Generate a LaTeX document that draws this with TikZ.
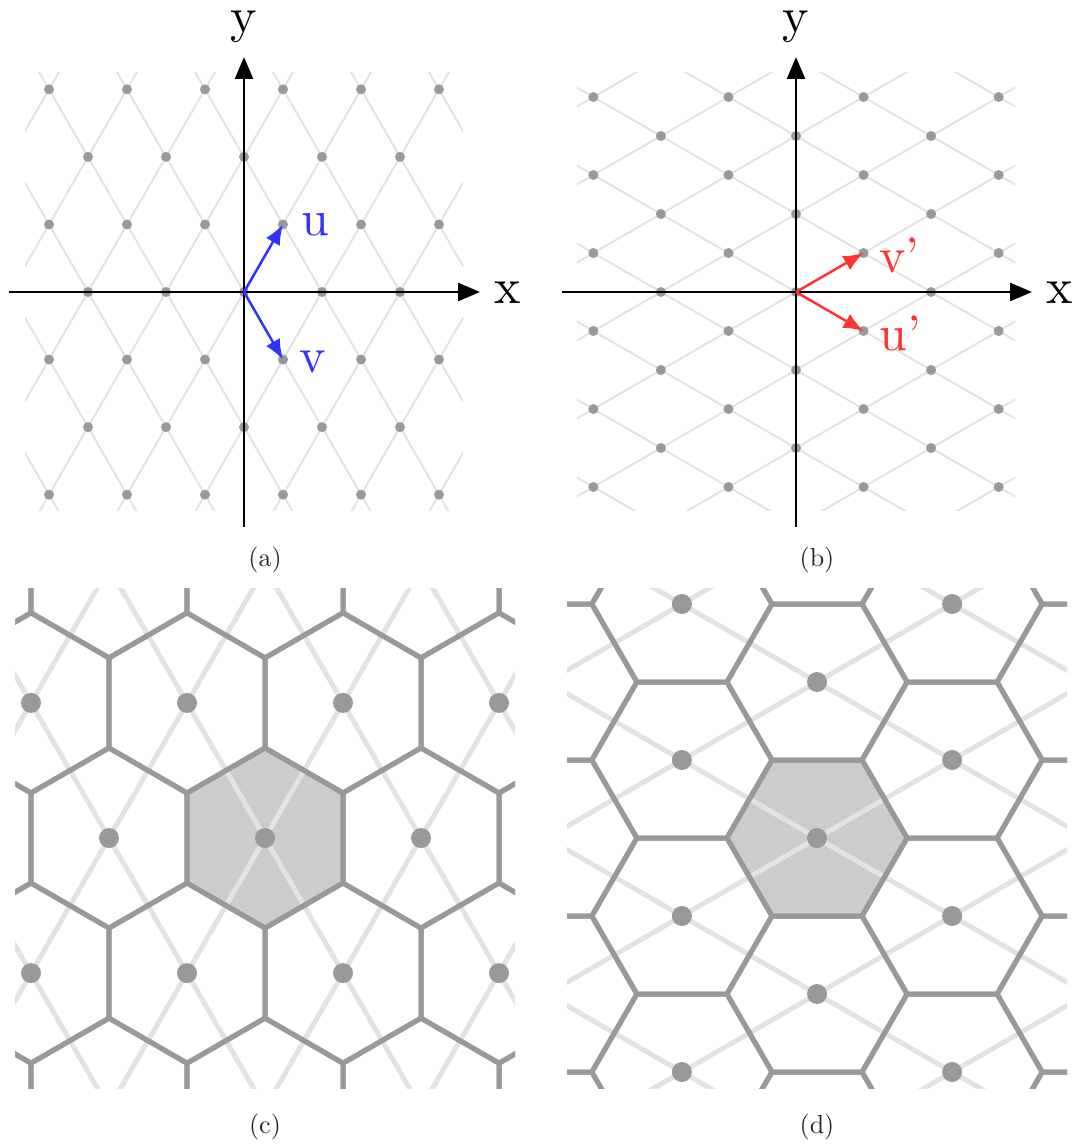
\documentclass[tikz,border=0pt]{standalone}
\usepackage{fontspec}
\newfontfamily\lmten{lmroman10-regular}[Extension=.otf, Ligatures=TeX]
\usetikzlibrary{arrows.meta}
\definecolor{latline}{HTML}{E3E3E3}
\definecolor{dotgray}{HTML}{999999}
\definecolor{hexfill}{HTML}{CCCCCC}
\definecolor{vblue}{HTML}{3333FF}
\definecolor{vred}{HTML}{FF3333}
\definecolor{captgray}{HTML}{262626}
\tikzset{
  latthin/.style={draw=latline, line width=2pt},
  latthick/.style={draw=latline, line width=5pt},
  hexedge/.style={draw=dotgray, line width=5pt},
  axisline/.style={draw=black, line width=2.5pt, -{Triangle[length=22pt,width=18pt]}},
  bluevec/.style={draw=vblue, line width=2.5pt, -{Latex[length=20pt,width=16pt]}},
  redvec/.style={draw=vred, line width=2.5pt, -{Latex[length=20pt,width=16pt]}},
  axlab/.style={inner sep=0pt, font=\lmten\fontsize{50}{50}\selectfont},
  veclab/.style={inner sep=0pt, font=\lmten\fontsize{50}{50}\selectfont},
  capt/.style={inner sep=0pt, anchor=base, text=captgray, font=\lmten\fontsize{26}{30}\selectfont}
}
\begin{document}
\begin{tikzpicture}[x=1pt,y=-1pt]
\useasboundingbox (0,0) rectangle (1078,1145);

% ---------------- (a) ----------------
\begin{scope}[shift={(244,292)}]
  \begin{scope}
    \clip (-219,-219) rectangle (219,218);
    \foreach \k in {-5,...,5} {
      \draw[latthin] (78*\k-160,-277.1) -- (78*\k+160,277.1);
      \draw[latthin] (78*\k-160,277.1) -- (78*\k+160,-277.1);
    }
    \foreach \j in {-3,...,3} \foreach \i in {-6,...,6} {
      \ifodd\numexpr\i+\j\relax\else
        \fill[dotgray] (39*\i,67.55*\j) circle[radius=5];
      \fi
    }
  \end{scope}
  \coordinate (oa) at (0,0);
  \coordinate (axla) at (-235,0);
  \coordinate (axra) at (236,0);
  \coordinate (ayba) at (0,235);
  \coordinate (ayta) at (0,-235);
  \draw[axisline] (axla) -- (axra);
  \draw[axisline] (ayba) -- (ayta);
  \node[axlab, anchor=base west] (xa) at (250,11) {x};
  \node[axlab, anchor=base] (ya) at (0,-259) {y};
  \coordinate (ua) at (39,-67.55);
  \coordinate (va) at (39,67.55);
  \draw[bluevec] (oa) -- (ua);
  \draw[bluevec] (oa) -- (va);
  \node[veclab, text=vblue, anchor=base west] (ula) at (57,-57) {u};
  \node[veclab, text=vblue, anchor=base west] (vla) at (55,80) {v};
\end{scope}
\node[capt] (capa) at (265,566) {(a)};

% ---------------- (b) ----------------
\begin{scope}[shift={(796,292)}]
  \begin{scope}
    \clip (-219,-219) rectangle (219,218);
    \foreach \k in {-5,...,5} {
      \draw[latthin] (-277.1,78*\k-160) -- (277.1,78*\k+160);
      \draw[latthin] (-277.1,78*\k+160) -- (277.1,78*\k-160);
    }
    \foreach \j in {-3,...,3} \foreach \i in {-6,...,6} {
      \ifodd\numexpr\i+\j\relax\else
        \fill[dotgray] (67.55*\j,39*\i) circle[radius=5];
      \fi
    }
  \end{scope}
  \coordinate (ob) at (0,0);
  \coordinate (axlb) at (-234,0);
  \coordinate (axrb) at (236,0);
  \coordinate (aybb) at (0,235);
  \coordinate (aytb) at (0,-235);
  \draw[axisline] (axlb) -- (axrb);
  \draw[axisline] (aybb) -- (aytb);
  \node[axlab, anchor=base west] (xb) at (250,11) {x};
  \node[axlab, anchor=base] (yb) at (0,-259) {y};
  \coordinate (vb) at (67.55,-39);
  \coordinate (ub) at (67.55,39);
  \draw[redvec] (ob) -- (vb);
  \draw[redvec] (ob) -- (ub);
  \node[veclab, text=vred, anchor=base west] (vlb) at (83,-20) {v’};
  \node[veclab, text=vred, anchor=base west] (ulb) at (83,58) {u’};
\end{scope}
\node[capt] (capb) at (817,566) {(b)};

% ---------------- (c) ----------------
\begin{scope}[shift={(265,838)}]
  \clip (-250,-250) rectangle (250,250);
  \fill[hexfill] (0,0) +(30:90.07) -- +(90:90.07) -- +(150:90.07) -- +(210:90.07) -- +(270:90.07) -- +(330:90.07) -- cycle;
  \foreach \k in {-3,...,3} {
    \draw[latthick] (156*\k-160,-277.1) -- (156*\k+160,277.1);
    \draw[latthick] (156*\k-160,277.1) -- (156*\k+160,-277.1);
  }
  \foreach \j in {-2,...,2} \foreach \i in {-5,...,5} {
    \ifodd\numexpr\i+\j\relax\else
      \draw[hexedge] (78*\i,135.1*\j) +(30:90.07) -- +(90:90.07) -- +(150:90.07) -- +(210:90.07) -- +(270:90.07) -- +(330:90.07) -- cycle;
    \fi
  }
  \foreach \j in {-2,...,2} \foreach \i in {-5,...,5} {
    \ifodd\numexpr\i+\j\relax\else
      \fill[dotgray] (78*\i,135.1*\j) circle[radius=10];
    \fi
  }
\end{scope}
\node[capt] (capc) at (265,1133) {(c)};

% ---------------- (d) ----------------
\begin{scope}[shift={(817,838)}]
  \clip (-250,-250) rectangle (250,250);
  \fill[hexfill] (0,0) +(0:90.07) -- +(60:90.07) -- +(120:90.07) -- +(180:90.07) -- +(240:90.07) -- +(300:90.07) -- cycle;
  \foreach \k in {-3,...,3} {
    \draw[latthick] (-277.1,156*\k-160) -- (277.1,156*\k+160);
    \draw[latthick] (-277.1,156*\k+160) -- (277.1,156*\k-160);
  }
  \foreach \j in {-2,...,2} \foreach \i in {-5,...,5} {
    \ifodd\numexpr\i+\j\relax\else
      \draw[hexedge] (135.1*\j,78*\i) +(0:90.07) -- +(60:90.07) -- +(120:90.07) -- +(180:90.07) -- +(240:90.07) -- +(300:90.07) -- cycle;
    \fi
  }
  \foreach \j in {-2,...,2} \foreach \i in {-5,...,5} {
    \ifodd\numexpr\i+\j\relax\else
      \fill[dotgray] (135.1*\j,78*\i) circle[radius=10];
    \fi
  }
\end{scope}
\node[capt] (capd) at (817,1133) {(d)};
\end{tikzpicture}
\end{document}
